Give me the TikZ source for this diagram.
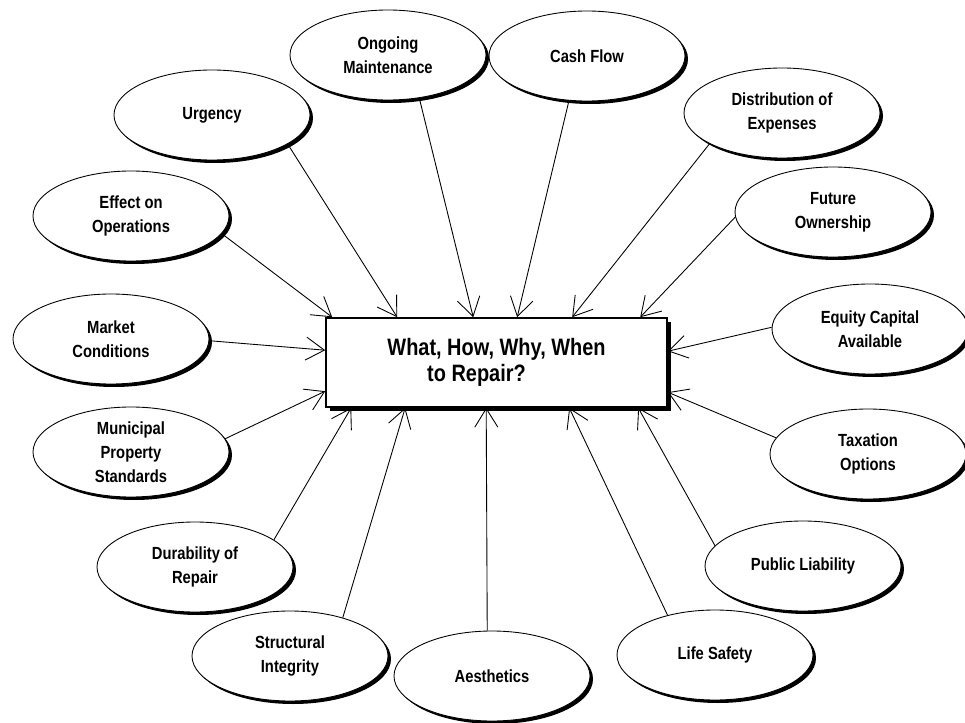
\documentclass[tikz,border=0pt]{standalone}
\usepackage{fontspec}
\setmainfont{Liberation Sans}[FakeStretch=0.84]
\usetikzlibrary{shapes.geometric, arrows.meta, shadows}

\begin{document}
\begin{tikzpicture}[
            font=\bfseries,
            >={Straight Barb[length=3.7mm, width=4.6mm]},
            % Styles
            factor/.style={
                ellipse, draw=black, line width=0.5pt, fill=white, align=center, inner sep=0pt,
                minimum width=3.92cm, minimum height=1.8cm, font=\bfseries\fontsize{10}{13.5}\selectfont,
                drop shadow={shadow xshift=0.06cm, shadow yshift=-0.06cm, fill=black, opacity=1}
            },
            goal/.style={
                rectangle, draw=black, line width=0.9pt, fill=white, align=center, inner sep=0pt,
                minimum width=6.82cm, minimum height=1.78cm, font=\bfseries\fontsize{13.5}{15}\selectfont,
                drop shadow={shadow xshift=0.08cm, shadow yshift=-0.08cm, fill=black, opacity=1}
            },
            feed/.style={->, line width=0.5pt}
        ]

            \useasboundingbox (0,0) rectangle (19.3,-14.46);

            % --- Nodes ---

            % Central question
            \node[goal] (repair) at (9.93,-7.25) {What, How, Why, When\\to Repair?\hspace*{0.8cm}};

            % Top row
            \node[factor] (urgency) at (4.24,-2.30) {Urgency};
            \node[factor] (maint) at (7.76,-1.10) {Ongoing\\Maintenance};
            \node[factor] (cash) at (11.74,-1.12) {Cash Flow};
            \node[factor] (distrib) at (15.64,-2.26) {Distribution of\\Expenses};

            % Left side
            \node[factor] (effect) at (2.62,-4.32) {Effect on\\Operations};
            \node[factor] (market) at (2.22,-6.78) {Market\\Conditions};
            \node[factor] (munic) at (2.62,-9.04) {Municipal\\Property\\Standards};
            \node[factor] (durab) at (3.90,-11.34) {Durability of\\Repair};

            % Bottom row
            \node[factor] (struct) at (5.80,-13.12) {Structural\\Integrity};
            \node[factor] (aesth) at (9.84,-13.52) {Aesthetics};
            \node[factor] (safety) at (14.30,-13.10) {Life Safety};

            % Right side
            \node[factor] (owner) at (16.66,-4.24) {Future\\Ownership};
            \node[factor] (equity) at (17.40,-6.58) {Equity Capital\\Available};
            \node[factor] (tax) at (17.36,-9.08) {Taxation\\Options};
            \node[factor] (liab) at (16.06,-11.32) {Public Liability};

            % --- Arrows ---
            \draw[feed] (effect.-11) -- ([xshift=0.14cm]repair.north west);
            \draw[feed] (urgency.-21) -- ([xshift=1.44cm]repair.north west);
            \draw[feed] (maint.-54) -- ([xshift=2.96cm]repair.north west);
            \draw[feed] (cash.-112) -- ([xshift=3.84cm]repair.north west);
            \draw[feed] (distrib.-157) -- ([xshift=4.94cm]repair.north west);
            \draw[feed] (owner.-177) -- ([xshift=6.30cm]repair.north west);

            \draw[feed] (market.-1) -- ([yshift=-0.66cm]repair.north west);
            \draw[feed] (munic.8) -- ([yshift=-1.48cm]repair.north west);
            \draw[feed] (equity.179) -- ([yshift=-0.68cm]repair.north east);
            \draw[feed] (tax.170) -- ([yshift=-1.50cm]repair.north east);

            \draw[feed] (durab.19) -- ([xshift=0.52cm]repair.south west);
            \draw[feed] (struct.36) -- ([xshift=1.60cm]repair.south west);
            \draw[feed] (aesth.96) -- ([xshift=3.22cm]repair.south west);
            \draw[feed] (safety.140) -- ([xshift=4.88cm]repair.south west);
            \draw[feed] (liab.167) -- ([xshift=6.26cm]repair.south west);

        \end{tikzpicture}
\end{document}
